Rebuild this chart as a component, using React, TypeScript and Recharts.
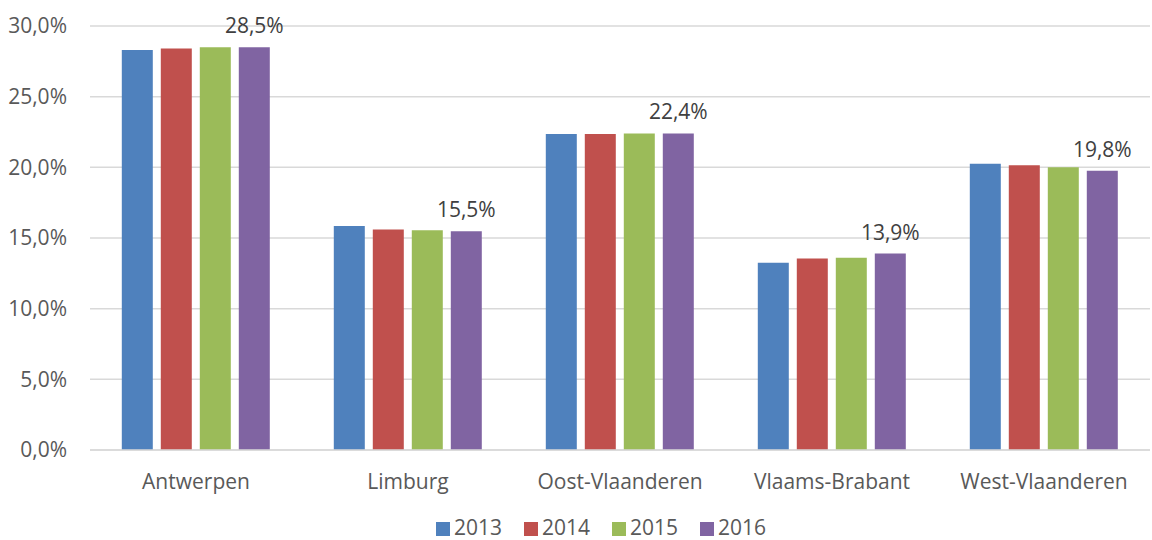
import React from 'react';
import { BarChart, Bar, XAxis, YAxis, CartesianGrid, Legend, LabelList } from 'recharts';

const provinces = ['Antwerpen', 'Limburg', 'Oost-Vlaanderen', 'Vlaams-Brabant', 'West-Vlaanderen'];
const values2013 = [28.3, 15.85, 22.35, 13.25, 20.25];
const values2014 = [28.4, 15.6, 22.35, 13.55, 20.15];
const values2015 = [28.5, 15.55, 22.4, 13.6, 20.0];
const values2016 = [28.5, 15.47, 22.4, 13.9, 19.75];
const yTicks = [0, 5, 10, 15, 20, 25, 30];

const data = provinces.map((name, i) => ({
  name,
  y2013: values2013[i],
  y2014: values2014[i],
  y2015: values2015[i],
  y2016: values2016[i],
}));

const fmt = (v: number) => v.toFixed(1).replace('.', ',') + '%';
const font = 'Open Sans, sans-serif';
const textColor = '#595959';

export default function App() {
  return (
    <div style={{ position: 'absolute', left: 0, top: 0, fontFamily: font }}>
      <BarChart
        width={1152}
        height={540}
        data={data}
        margin={{ top: 26, right: 2, bottom: 0, left: 0 }}
        barCategoryGap="15%"
        barGap={8}
      >
        <CartesianGrid vertical={false} stroke="#d9d9d9" strokeWidth={1.5} />
        <XAxis
          dataKey="name"
          height={66}
          tickLine={false}
          axisLine={{ stroke: '#d9d9d9', strokeWidth: 1.5 }}
          tickMargin={18}
          tick={{ fill: textColor, fontSize: 21, fontFamily: font }}
        />
        <YAxis
          width={90}
          domain={[0, 30]}
          ticks={yTicks}
          tickFormatter={fmt}
          axisLine={false}
          tickLine={false}
          tickMargin={17}
          tick={{ fill: textColor, fontSize: 21, fontFamily: font }}
        />
        <Legend
          verticalAlign="bottom"
          height={24}
          iconType="square"
          iconSize={14}
          wrapperStyle={{ fontSize: 21, fontFamily: font, height: 24, lineHeight: '24px', left: 37, transform: 'translateY(-1px)' }}
          formatter={(value) => <span style={{ color: textColor, marginRight: 12 }}>{value}</span>}
        />
        <Bar dataKey="y2013" name="2013" fill="#4F81BD" isAnimationActive={false} />
        <Bar dataKey="y2014" name="2014" fill="#C0504D" isAnimationActive={false} />
        <Bar dataKey="y2015" name="2015" fill="#9BBB59" isAnimationActive={false} />
        <Bar dataKey="y2016" name="2016" fill="#8064A2" isAnimationActive={false}>
          <LabelList
            dataKey="y2016"
            position="top"
            offset={14}
            formatter={(v: any) => fmt(Number(v))}
            style={{ fill: '#404040', fontSize: 21, fontFamily: font }}
          />
        </Bar>
      </BarChart>
    </div>
  );
}
